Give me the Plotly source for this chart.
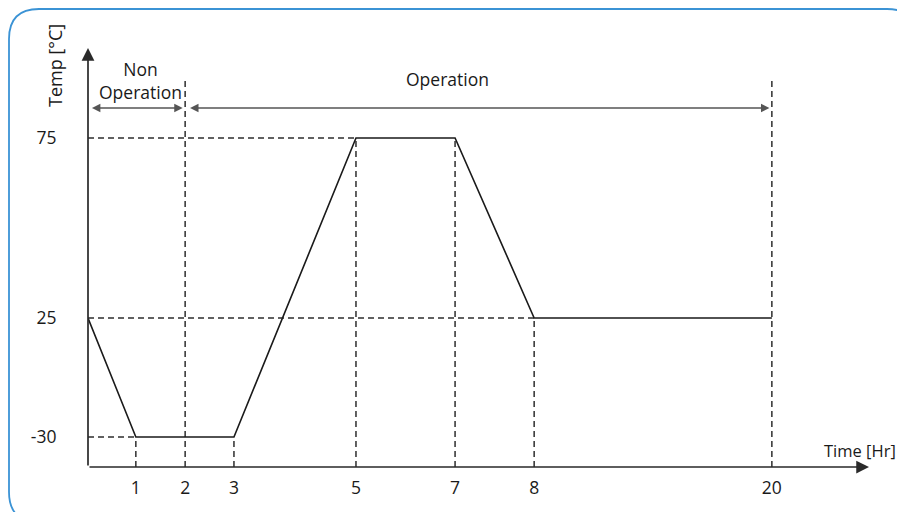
import numpy as np
import plotly.graph_objects as go

# ---------------- data ----------------
time_hr = [0, 1, 3, 5, 7, 8, 20]
temp_c = [25, -30, -30, 75, 75, 25, 25]
x_tick_hours = [1, 2, 3, 5, 7, 8, 20]
x_tick_labels = ["1", "2", "3", "5", "7", "8", "20"]
y_tick_temps = [-30, 25, 75]
y_tick_labels = ["-30", "25", "75"]
phase_names = ["Non<br>Operation", "Operation"]
phase_bounds_hr = [0, 2, 20]

# ------------- schematic (non-linear) axis scales -------------
X_KNOTS_HR = [0, 1, 2, 3, 5, 7, 8, 20]
X_KNOTS_POS = [0, 0.98, 1.99, 2.99, 5.49, 7.52, 9.14, 14.01]
Y_KNOTS_T = [-30, 25, 75]
Y_KNOTS_POS = [30, 149, 329]
X_MAX, Y_MAX = 16.0, 419.0
Y_GUIDE_TOP, Y_PHASE = 389, 359


def xs(h):
    return np.interp(h, X_KNOTS_HR, X_KNOTS_POS)


def ys(t):
    return np.interp(t, Y_KNOTS_T, Y_KNOTS_POS)


# page body has an 8px margin; figure sized to fill the rest of the window
OFF = 8
W, H = 905 - OFF, 512 - OFF
ML, MR, MT, MB = 88 - OFF, 36, 48 - OFF, 45
PW, PH = W - ML - MR, H - MT - MB


def px(x):  # window pixel -> paper x
    return (x - OFF - ML) / PW


def py(y):  # window pixel -> paper y
    return (H + OFF - MB - y) / PH


FONT = "Open Sans"
TXT = "#1a1a1a"
DASH = "6px,4px"
FS = 17.5

fig = go.Figure()

# dashed guide lines
shapes = []
seen = set()
for h, t in zip(time_hr[1:], temp_c[1:]):
    if t not in seen:
        seen.add(t)
        shapes.append(dict(type="line", xref="x", yref="y", x0=0, x1=float(xs(h)),
                           y0=float(ys(t)), y1=float(ys(t)), layer="below",
                           line=dict(color="#2e2e2e", width=1.5, dash=DASH)))
    if h not in phase_bounds_hr:
        shapes.append(dict(type="line", xref="x", yref="y", x0=float(xs(h)), x1=float(xs(h)),
                           y0=0, y1=float(ys(t)), layer="below",
                           line=dict(color="#2e2e2e", width=1.5, dash=DASH)))
for b in phase_bounds_hr[1:]:
    shapes.append(dict(type="line", xref="x", yref="y", x0=float(xs(b)), x1=float(xs(b)),
                       y0=0, y1=Y_GUIDE_TOP, layer="below",
                       line=dict(color="#2e2e2e", width=1.5, dash=DASH)))

# rounded blue frame
x0, y0, x1, y1, r = 9, 9, 917, 522, 30
path = (f"M{px(x0 + r)},{py(y0)} L{px(x1 - r)},{py(y0)} Q{px(x1)},{py(y0)} {px(x1)},{py(y0 + r)} "
        f"L{px(x1)},{py(y1 - r)} Q{px(x1)},{py(y1)} {px(x1 - r)},{py(y1)} "
        f"L{px(x0 + r)},{py(y1)} Q{px(x0)},{py(y1)} {px(x0)},{py(y1 - r)} "
        f"L{px(x0)},{py(y0 + r)} Q{px(x0)},{py(y0)} {px(x0 + r)},{py(y0)} Z")
shapes.append(dict(type="path", xref="paper", yref="paper", path=path,
                   line=dict(color="#3b93d5", width=1.8), layer="below"))

# temperature profile
fig.add_trace(go.Scatter(x=xs(time_hr), y=ys(temp_c), mode="lines",
                         line=dict(color="#1a1a1a", width=1.6),
                         cliponaxis=False, hoverinfo="skip", showlegend=False))

annotations = []
# axis arrows
annotations.append(dict(x=X_MAX, y=0, ax=0, ay=0, xref="x", yref="y", axref="x", ayref="y",
                        text="", showarrow=True, arrowhead=2, arrowsize=1.5, arrowwidth=1.7,
                        arrowcolor="#2a2a2a", standoff=0))
annotations.append(dict(x=0, y=Y_MAX, ax=0, ay=0, xref="x", yref="y", axref="x", ayref="y",
                        text="", showarrow=True, arrowhead=2, arrowsize=1.5, arrowwidth=1.7,
                        arrowcolor="#2a2a2a", standoff=0))
# phase arrows
for i, name in enumerate(phase_names):
    a, b = phase_bounds_hr[i], phase_bounds_hr[i + 1]
    xa = float(xs(a)) + (0.05 if i == 0 else 0.07)
    xb = float(xs(b)) - 0.05
    annotations.append(dict(x=xb, y=Y_PHASE, ax=xa, ay=Y_PHASE, xref="x", yref="y",
                            axref="x", ayref="y", text="", showarrow=True,
                            arrowhead=2, startarrowhead=2, arrowside="end+start",
                            arrowsize=1.3, startarrowsize=1.3, arrowwidth=1.3,
                            arrowcolor="#555555", standoff=0, startstandoff=0))


def label(x, y, text, size=FS, angle=0):
    return dict(x=px(x), y=py(y), xref="paper", yref="paper", text=text, textangle=angle,
                xanchor="center", yanchor="middle", showarrow=False,
                font=dict(family=FONT, size=size, color=TXT))


annotations.append(label(140, 80, phase_names[0]))
annotations.append(label(447, 79, phase_names[1]))
annotations.append(label(55, 66, "Temp [°C]", size=18, angle=-90))
annotations.append(label(860, 450, "Time [Hr]", size=16.5))

fig.update_layout(
    width=W, height=H,
    margin=dict(l=ML, r=MR, t=MT, b=MB),
    paper_bgcolor="white", plot_bgcolor="white",
    shapes=shapes, annotations=annotations, showlegend=False,
    xaxis=dict(range=[0, X_MAX], showgrid=False, zeroline=False, showline=False,
               tickvals=list(xs(x_tick_hours)), ticktext=x_tick_labels,
               ticks="outside", ticklen=5, tickcolor="rgba(0,0,0,0)",
               tickfont=dict(family=FONT, size=FS, color=TXT), fixedrange=True),
    yaxis=dict(range=[0, Y_MAX], showgrid=False, zeroline=False, showline=False,
               tickvals=list(ys(y_tick_temps)), ticktext=y_tick_labels,
               ticks="outside", ticklen=27, tickcolor="rgba(0,0,0,0)",
               tickfont=dict(family=FONT, size=FS, color=TXT), fixedrange=True),
)

fig.write_html("out.html")
